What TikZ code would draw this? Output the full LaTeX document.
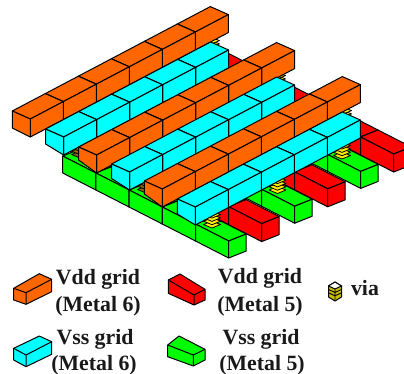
\documentclass[tikz,border=0pt]{standalone}
\usepackage{fontspec}
\setmainfont{Liberation Serif}
\definecolor{orng}{HTML}{FF6600}
\definecolor{cyn}{HTML}{00FFFF}
\definecolor{rd}{HTML}{FF0000}
\definecolor{grn}{HTML}{00FF00}
\definecolor{ylw}{HTML}{FFF000}
\definecolor{olv}{HTML}{C8BE00}
\definecolor{brwn}{HTML}{8C6A10}
\tikzset{
  edge/.style={draw=black,line width=1pt,line join=round},
  legendtext/.style={font=\bfseries\fontsize{21.8}{22}\selectfont,text=black!90,inner sep=0pt,anchor=base},
}
% upper brick: colour, x, y (left top corner), left height
\newcommand\upbrick[4]{%
  \filldraw[edge,fill=#1] (#2,#3) -- ++(33,-17.4) -- ++(18,8) -- ++(-33,17.4) -- cycle;
  \filldraw[edge,fill=#1] (#2,#3) ++(18,8) -- ++(33,-17.4) -- ++(0,18) -- ++(-33,17.4) -- cycle;
  \filldraw[edge,fill=#1] (#2,#3) -- ++(18,8) -- ++(0,18) -- (#2,#3+#4) -- cycle;
}
% upper rail: colour, x, y, segments, left height
\newcommand\uprail[5]{%
  \foreach \k in {#4,...,1}{%
    \pgfmathsetmacro\bx{#2+33*(\k-1)}%
    \pgfmathsetmacro\by{#3-17.4*(\k-1)}%
    \ifnum\k=1\relax\upbrick{#1}{\bx}{\by}{#5}\else\upbrick{#1}{\bx}{\by}{18}\fi
  }%
}
% lower brick: colour, x, y, height
\newcommand\lowbrick[4]{%
  \filldraw[edge,fill=#1] (#2,#3) -- ++(33.2,17) -- ++(17.5,-7) -- ++(-33.2,-17) -- cycle;
  \filldraw[edge,fill=#1] (#2,#3) -- ++(33.2,17) -- ++(0,#4) -- ++(-33.2,-17) -- cycle;
  \filldraw[edge,fill=#1] (#2,#3) ++(33.2,17) -- ++(17.5,-7) -- ++(0,#4) -- ++(-17.5,7) -- cycle;
}
% lower rail: colour, x, y, segments, height
\newcommand\lowrail[5]{%
  \foreach \k in {1,...,#4}{%
    \pgfmathsetmacro\bx{#2+33.2*(\k-1)}%
    \pgfmathsetmacro\by{#3+17*(\k-1)}%
    \lowbrick{#1}{\bx}{\by}{#5}%
  }%
}
% via: colour, centre x, bottom tip y
\newcommand\viastack[3]{%
  \foreach \j in {0,1,2,3}{%
    \filldraw[draw=black,line width=.8pt,fill=#1,line join=round]
      (#2,#3-\j*3.3) -- ++(8.5,-3.5) -- ++(-8.5,-3.5) -- ++(-8.5,3.5) -- cycle;
  }%
}
\newcommand\viarow[6]{\viastack{ylw}{#1}{#2}\viastack{ylw}{#3}{#4}\viastack{ylw}{#5}{#6}}
\begin{document}
\begin{tikzpicture}[x=1pt,y=-1pt]
\useasboundingbox (0,0) rectangle (404,374);
\begin{scope}
\clip (0,0) rectangle (404,374);
% metal 5
\lowrail{rd}{194.5}{52}{6}{18}
\lowrail{grn}{194.7}{86.4}{5}{17}
\lowrail{rd}{128.5}{86.8}{6}{18}
\lowrail{grn}{128.7}{121.2}{5}{17}
\lowrail{rd}{62.5}{121.6}{6}{18}
\lowrail{grn}{62.7}{156}{5}{17}
% metal 6 and vias
\viarow{80}{123}{145.5}{88.5}{211}{54}
\uprail{orng}{12.3}{111}{6}{17}
\viastack{brwn}{80}{158}\viastack{ylw}{145.5}{123.5}\viastack{ylw}{211}{89}
\uprail{cyn}{45.6}{129}{5}{15}
\viarow{146}{158}{211.5}{123.5}{277}{89}
\uprail{orng}{78.6}{147}{6}{13}
\viastack{brwn}{146}{193}\viastack{ylw}{211.5}{158.5}\viastack{ylw}{277}{124}
\uprail{cyn}{111.6}{164}{5}{14.5}
\viarow{212}{193}{277.5}{158.5}{343}{124}
\uprail{orng}{144.3}{181}{6}{13}
\viarow{212}{228}{277.5}{193.5}{342}{159}
\uprail{cyn}{177.3}{199}{5}{15}
\end{scope}
% legend bricks
\filldraw[edge,fill=orng] (13.7,288.3) -- (39.3,273.7) -- (51.7,279.3) -- (51.7,291.7) -- (26,304.3) -- (13.7,300) -- cycle;
\draw[edge] (13.7,288.3) -- (26,292.7) -- (51.7,279.3) (26,292.7) -- (26,304.3);
\filldraw[edge,fill=rd] (168.3,280) -- (180,274) -- (205,289.3) -- (205,300) -- (194,305) -- (168.3,293.3) -- cycle;
\draw[edge] (168.3,280) -- (194,295) -- (205,289.3) (194,295) -- (194,305);
\filldraw[edge,fill=cyn] (13.7,348.3) -- (39.3,336) -- (51.7,341.7) -- (51.7,354.3) -- (26,366.7) -- (13.7,360) -- cycle;
\draw[edge] (13.7,348.3) -- (26,355) -- (51.7,341.7) (26,355) -- (26,366.7);
\filldraw[edge,fill=grn] (167.7,345) -- (179,336) -- (205,349.3) -- (205,360) -- (193.3,366) -- (167.7,356.7) -- cycle;
\draw[edge] (167.7,345) -- (193.3,355) -- (205,349.3) (193.3,355) -- (193.3,366);
% legend via
\filldraw[edge,fill=olv] (328.5,286) -- (335,282) -- (341.5,286) -- (341.5,297) -- (335,301) -- (328.5,297) -- cycle;
\filldraw[edge,fill=white] (328.5,286) -- (335,282) -- (341.5,286) -- (335,289) -- cycle;
\draw[black,line width=.9pt] (328.5,289.5) -- (335,292.5) -- (341.5,289.5) (328.5,292.8) -- (335,295.8) -- (341.5,292.8) (335,289) -- (335,301);
% legend text
\node[legendtext] (t1) at (98,284.5) {Vdd grid};
\node[legendtext] (t2) at (98,311.5) {(Metal 6)};
\node[legendtext] (t3) at (260,283.5) {Vdd grid};
\node[legendtext] (t4) at (260,311) {(Metal 5)};
\node[legendtext] (t5) at (365,295) {via};
\node[legendtext] (t6) at (95,344) {Vss grid};
\node[legendtext] (t7) at (94,370) {(Metal 6)};
\node[legendtext] (t8) at (261,344) {Vss grid};
\node[legendtext] (t9) at (262,370) {(Metal 5)};
\end{tikzpicture}
\end{document}
